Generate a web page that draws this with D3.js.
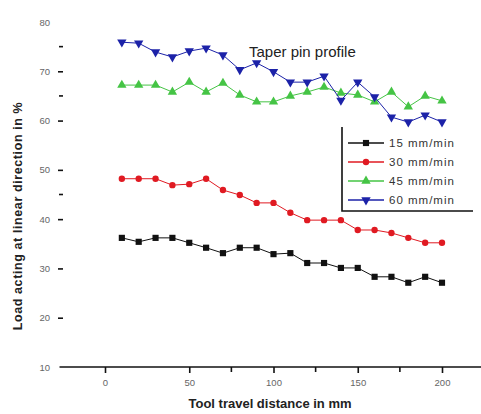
<!DOCTYPE html>
<html>
<head>
<meta charset="utf-8">
<script src="https://cdn.jsdelivr.net/npm/d3@7"></script>
<style>
  html, body { margin: 0; padding: 0; background: #fff; }
  svg { display: block; font-family: Arial, "Liberation Sans", sans-serif; }
</style>
</head>
<body>
<svg id="chart" width="481" height="414"></svg>
<script>
// Tool travel distance (mm)
const distance = [10, 20, 30, 40, 50, 60, 70, 80, 90, 100, 110, 120, 130, 140, 150, 160, 170, 180, 190, 200];

// Load acting at linear direction (%) for each feed rate
const feed15 = [36.2, 35.4, 36.2, 36.2, 35.2, 34.2, 33.1, 34.2, 34.2, 32.9, 33.1, 31.1, 31.1, 30.1, 30.1, 28.3, 28.3, 27.1, 28.3, 27.1];
const feed30 = [48.2, 48.2, 48.2, 46.9, 47.1, 48.2, 45.9, 44.9, 43.3, 43.3, 41.3, 39.8, 39.8, 39.8, 37.8, 37.8, 37.2, 36.2, 35.2, 35.2];
const feed45 = [67.2, 67.2, 67.2, 65.8, 67.8, 65.8, 67.6, 65.2, 63.8, 63.8, 65.0, 65.8, 66.8, 65.6, 65.2, 63.8, 65.8, 62.8, 65.0, 64.0];
const feed60 = [75.9, 75.7, 73.9, 72.9, 74.1, 74.7, 73.3, 70.3, 71.7, 69.9, 67.8, 67.8, 69.0, 64.1, 67.8, 64.8, 60.7, 59.7, 61.1, 59.7];

const seriesNames = ["15 mm/min", "30 mm/min", "45 mm/min", "60 mm/min"];
const seriesColors = ["#111111", "#e01a22", "#45c445", "#1c22a8"];
const seriesSymbols = [d3.symbolSquare, d3.symbolCircle, d3.symbolTriangle, d3.symbolTriangle];
const seriesValues = [feed15, feed30, feed45, feed60];

const xMajorTicks = [0, 50, 100, 150, 200];
const xMinorTicks = [75, 125, 175];
const yMajorTicks = [10, 20, 30, 40, 50, 60, 70, 80];
const yMinorTicks = [45, 65, 75];

const svg = d3.select("#chart");

const x = d3.scaleLinear().domain([0, 200]).range([105, 442]);
const y = d3.scaleLinear().domain([10, 80]).range([367, 22]);
const axisLeftX = 63;

// X axis
const xAxisG = svg.append("g").attr("transform", `translate(0,${y(10)})`);
xAxisG.call(d3.axisBottom(x).tickValues(xMajorTicks).tickSize(6).tickSizeOuter(0).tickFormat(d3.format("d")));
xAxisG.select(".domain").remove();
xAxisG.selectAll(".tick line").attr("stroke", "#111").attr("stroke-width", 1.6);
xAxisG.selectAll(".tick text").attr("dy", "1.1em").attr("font-size", 9.5).attr("fill", "#666");
xAxisG.selectAll(".minor").data(xMinorTicks).enter().append("line")
  .attr("x1", d => x(d)).attr("x2", d => x(d)).attr("y1", 0).attr("y2", 5)
  .attr("stroke", "#111").attr("stroke-width", 1.6);
xAxisG.append("line")
  .attr("x1", x(-27)).attr("x2", 481).attr("y1", 0).attr("y2", 0)
  .attr("stroke", "#111").attr("stroke-width", 1.6);

// Y axis (ticks and labels, no spine)
const yAxisG = svg.append("g").attr("transform", `translate(${axisLeftX},0)`);
yAxisG.call(d3.axisLeft(y).tickValues(yMajorTicks).tickSize(5).tickSizeOuter(0).tickPadding(8).tickFormat(d3.format("d")));
yAxisG.select(".domain").remove();
yAxisG.selectAll(".tick line").attr("stroke", "#111").attr("stroke-width", 1.6)
  .attr("display", d => (d === 10 || d === 80) ? "none" : null);
yAxisG.selectAll(".tick text").attr("font-size", 9.5).attr("fill", "#666");
yAxisG.selectAll(".minor").data(yMinorTicks).enter().append("line")
  .attr("x1", -4).attr("x2", 0).attr("y1", d => y(d)).attr("y2", d => y(d))
  .attr("stroke", "#111").attr("stroke-width", 1.6);

// Axis titles
svg.append("text")
  .attr("x", 270).attr("y", 408).attr("text-anchor", "middle")
  .attr("font-size", 13).attr("font-weight", "bold").attr("fill", "#222")
  .text("Tool travel distance in mm");
svg.append("text")
  .attr("transform", `translate(22,${216}) rotate(-90)`)
  .attr("text-anchor", "middle")
  .attr("font-size", 12.5).attr("font-weight", "bold").attr("fill", "#222")
  .attr("letter-spacing", 0.6)
  .text("Load acting at linear direction in %");

// Plot title
svg.append("text")
  .attr("x", 249).attr("y", 57)
  .attr("font-size", 15).attr("fill", "#222")
  .text("Taper pin profile");

// Series lines and markers
const line = d3.line().x((d, i) => x(distance[i])).y(d => y(d));
seriesValues.forEach((vals, s) => {
  const g = svg.append("g");
  g.append("path").datum(vals)
    .attr("d", line).attr("fill", "none")
    .attr("stroke", seriesColors[s]).attr("stroke-width", 1);
  const sym = d3.symbol().type(seriesSymbols[s]).size(s === 1 ? 32 : 38);
  g.selectAll("path.pt").data(vals).enter().append("path")
    .attr("class", "pt")
    .attr("d", sym)
    .attr("transform", (d, i) => `translate(${x(distance[i])},${y(d)})${s === 3 ? " rotate(180)" : ""}`)
    .attr("fill", seriesColors[s]);
});

// Legend
const legend = svg.append("g");
legend.append("path")
  .attr("d", "M342,127 L342,211 L473,211")
  .attr("fill", "none").attr("stroke", "#111").attr("stroke-width", 1.6);
seriesNames.forEach((name, s) => {
  const ly = 143 + s * 19;
  legend.append("line")
    .attr("x1", 348).attr("x2", 384).attr("y1", ly).attr("y2", ly)
    .attr("stroke", seriesColors[s]).attr("stroke-width", 1.5);
  legend.append("path")
    .attr("d", d3.symbol().type(seriesSymbols[s]).size(s === 1 ? 32 : 38))
    .attr("transform", `translate(366,${ly})${s === 3 ? " rotate(180)" : ""}`)
    .attr("fill", seriesColors[s]);
  legend.append("text")
    .attr("x", 389).attr("y", ly + 4)
    .attr("font-size", 11.5).attr("fill", "#333")
    .attr("letter-spacing", 1)
    .text(name);
});
</script>
</body>
</html>
